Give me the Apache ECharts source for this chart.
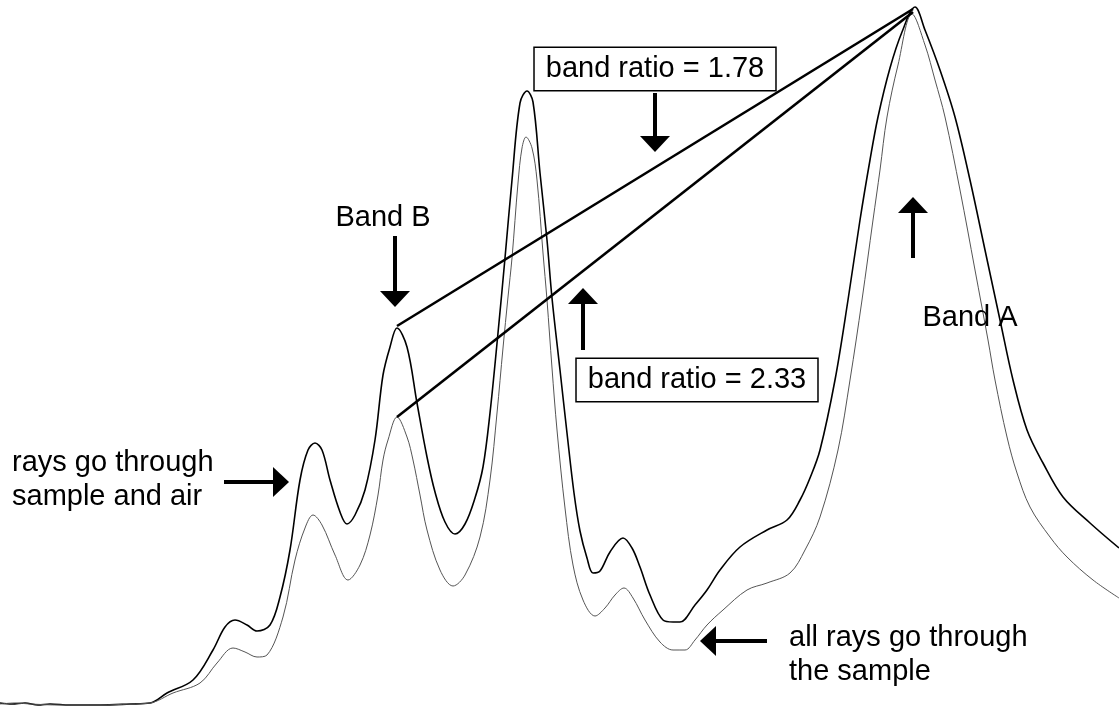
<!DOCTYPE html>
<html>
<head>
<meta charset="utf-8">
<title>Band ratio spectrum</title>
<script src="https://cdn.jsdelivr.net/npm/echarts@6/dist/echarts.min.js"></script>
<style>
  html, body { margin: 0; padding: 0; background: #fff; }
  #chart { width: 1119px; height: 708px; }
</style>
</head>
<body>
<div id="chart"></div>
<script>
// Spectrum traces: [channel, signal]
const upperCurve = [
  [0, 5], [12, 4], [25, 5], [38, 3], [50, 4], [70, 3], [100, 3], [130, 4], [150, 5],
  [167, 15], [193, 28], [213, 58], [225, 81], [235, 88], [247, 83], [257, 77], [270, 83],
  [280, 111], [290, 158], [300, 228], [308, 258], [315, 265], [322, 258], [330, 228],
  [340, 196], [347, 184], [355, 193], [365, 218], [375, 268], [383, 333], [390, 361],
  [397, 380], [407, 361], [417, 305], [427, 251], [435, 216], [445, 186], [455, 174],
  [465, 184], [475, 210], [483, 241], [490, 295], [498, 375], [505, 450], [512, 528],
  [520, 605], [527, 617], [533, 606], [540, 535], [547, 468], [552, 410], [560, 338],
  [567, 275], [574, 215], [580, 177], [587, 150], [593, 135], [600, 137], [610, 156],
  [623, 170], [632, 160], [640, 141], [650, 113], [663, 88], [673, 86], [680, 86],
  [695, 103], [707, 118], [720, 138], [740, 161], [767, 178], [787, 188], [800, 208],
  [810, 230], [820, 258], [835, 328], [848, 408], [860, 488], [870, 548], [878, 591],
  [890, 640], [902, 676], [915, 701], [925, 678], [940, 638], [955, 591], [970, 528],
  [985, 458], [1000, 388], [1013, 328], [1027, 278], [1043, 245], [1063, 211],
  [1090, 185], [1119, 160]
];

const lowerCurve = [
  [0, 4], [15, 5], [30, 4], [60, 3], [100, 3], [130, 4], [150, 5],
  [173, 15], [200, 25], [217, 45], [233, 60], [245, 56], [257, 51], [267, 53],
  [283, 91], [295, 148], [305, 180], [313, 193], [322, 183], [335, 153], [348, 128],
  [360, 143], [370, 173], [378, 213], [383, 248], [388, 268], [397, 291], [407, 271],
  [413, 248], [420, 213], [427, 178], [440, 138], [453, 122], [465, 133], [480, 171],
  [490, 228], [497, 295], [503, 360], [508, 411], [512, 450], [518, 525], [522, 560],
  [526, 571], [532, 560], [537, 528], [543, 455], [547, 408], [552, 340], [557, 278],
  [565, 200], [573, 143], [583, 108], [595, 92], [605, 100], [615, 113], [624, 120],
  [633, 110], [645, 88], [660, 66], [673, 58], [685, 58], [695, 68], [707, 83],
  [723, 98], [747, 118], [767, 125], [790, 135], [805, 158], [820, 191], [838, 258],
  [850, 328], [862, 408], [873, 488], [880, 538], [887, 591], [898, 643], [912, 694],
  [925, 663], [935, 628], [945, 591], [960, 518], [975, 438], [988, 368], [995, 328],
  [1007, 271], [1017, 235], [1030, 201], [1050, 171], [1067, 151], [1093, 128],
  [1119, 110]
];

// Peak tops joined by the ratio lines
const bandBPeaks = [[397, 382], [397, 291]];
const bandAPeaks = [[913, 699], [913, 696]];

// Arrows: [fromChannel, fromSignal, toChannel, toSignal]
const arrows = [
  [655, 615, 655, 556],
  [395, 472, 395, 401],
  [583, 358, 583, 420],
  [913, 450, 913, 511],
  [224, 226, 289, 226],
  [767, 67, 700, 67]
];

// Text annotations: [channel, signal, text, align, boxed]
const notes = [
  [655, 639, 'band ratio = 1.78', 'center', 1],
  [697, 328, 'band ratio = 2.33', 'center', 1],
  [383, 490, 'Band B', 'center', 0],
  [970, 390, 'Band A', 'center', 0],
  [12, 228, 'rays go through\nsample and air', 'left', 0],
  [789, 53, 'all rays go through\nthe sample', 'left', 0]
];

const FONT = '"Liberation Sans", Arial, sans-serif';

function renderArrow(params, api) {
  const p0 = api.coord([api.value(0), api.value(1)]);
  const p1 = api.coord([api.value(2), api.value(3)]);
  const dx = p1[0] - p0[0], dy = p1[1] - p0[1];
  const len = Math.hypot(dx, dy);
  const ux = dx / len, uy = dy / len;
  const headLen = 16, headHalf = 15;
  const base = [p1[0] - ux * headLen, p1[1] - uy * headLen];
  const nx = -uy, ny = ux;
  return {
    type: 'group',
    children: [
      { type: 'line', shape: { x1: p0[0], y1: p0[1], x2: base[0] + ux, y2: base[1] + uy },
        style: { stroke: '#000', lineWidth: 4 } },
      { type: 'polygon',
        shape: { points: [p1, [base[0] + nx * headHalf, base[1] + ny * headHalf],
                              [base[0] - nx * headHalf, base[1] - ny * headHalf]] },
        style: { fill: '#000' } }
    ]
  };
}

function renderNote(params, api) {
  const item = notes[params.dataIndex];
  const p = api.coord([item[0], item[1]]);
  const boxed = item[4] === 1;
  return {
    type: 'text',
    x: p[0], y: p[1],
    style: {
      text: item[2],
      fontFamily: FONT,
      fontSize: 29,
      lineHeight: 34,
      fill: '#000',
      align: item[3],
      verticalAlign: 'middle',
      backgroundColor: boxed ? '#fff' : null,
      borderColor: boxed ? '#000' : null,
      borderWidth: boxed ? 1.5 : 0,
      padding: boxed ? [5, 11, 3, 11] : 0
    }
  };
}

const chart = echarts.init(document.getElementById('chart'), null, { renderer: 'canvas' });
chart.setOption({
  animation: false,
  backgroundColor: '#fff',
  grid: { left: 0, right: 0, top: 0, bottom: 0 },
  xAxis: { type: 'value', min: 0, max: 1119, show: false },
  yAxis: { type: 'value', min: 0, max: 708, show: false },
  series: [
    {
      name: 'sample and air', type: 'line', data: upperCurve, showSymbol: false,
      smooth: 0.35,
      lineStyle: { color: '#000', width: 1.6 }, z: 3
    },
    {
      name: 'sample only', type: 'line', data: lowerCurve, showSymbol: false,
      smooth: 0.35,
      lineStyle: { color: '#555', width: 1 }, z: 3
    },
    {
      name: 'ratio 1.78', type: 'line', data: [bandBPeaks[0], bandAPeaks[0]], showSymbol: false,
      lineStyle: { color: '#000', width: 2.6 }, z: 4
    },
    {
      name: 'ratio 2.33', type: 'line', data: [bandBPeaks[1], bandAPeaks[1]], showSymbol: false,
      lineStyle: { color: '#000', width: 2.6 }, z: 4
    },
    {
      name: 'arrows', type: 'custom', data: arrows, renderItem: renderArrow, z: 5,
      silent: true
    },
    {
      name: 'notes', type: 'custom', data: notes.map(n => [n[0], n[1]]), renderItem: renderNote,
      z: 6, silent: true
    }
  ]
});
</script>
</body>
</html>
